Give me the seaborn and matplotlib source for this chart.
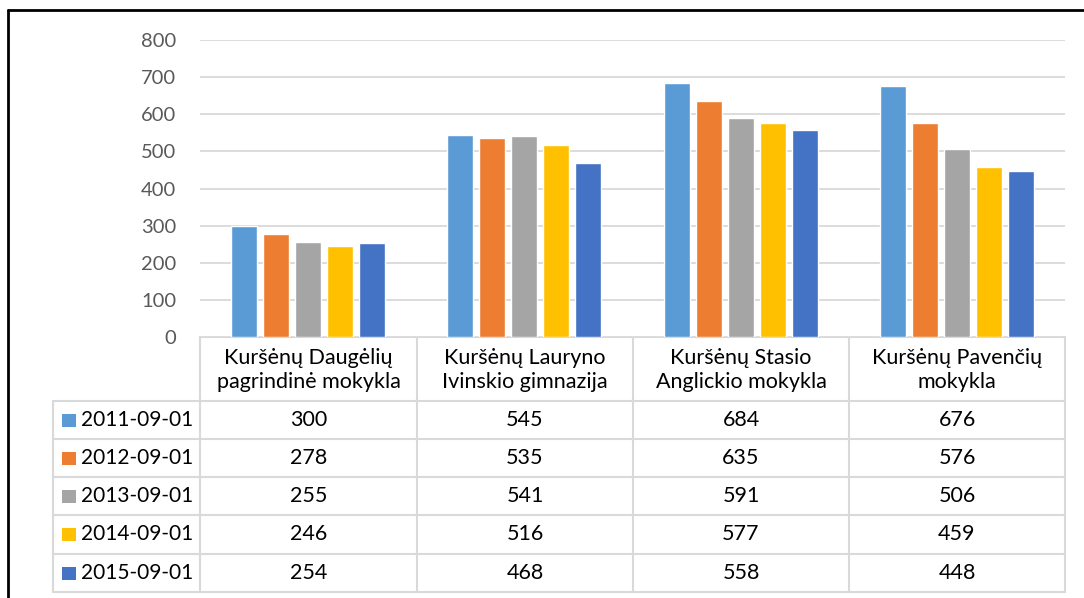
import numpy as np
import pandas as pd
import matplotlib
matplotlib.use('Agg')
import matplotlib.pyplot as plt
import seaborn as sns

schools = ['Kuršėnų Daugėlių\npagrindinė mokykla',
           'Kuršėnų Lauryno\nIvinskio gimnazija',
           'Kuršėnų Stasio\nAnglickio mokykla',
           'Kuršėnų Pavenčių\nmokykla']
dates = ['2011-09-01', '2012-09-01', '2013-09-01', '2014-09-01', '2015-09-01']
v2011 = [300, 545, 684, 676]
v2012 = [278, 535, 635, 576]
v2013 = [255, 541, 591, 506]
v2014 = [246, 516, 577, 459]
v2015 = [254, 468, 558, 448]
colors = ['#5B9BD5', '#ED7D31', '#A5A5A5', '#FFC000', '#4472C4']

series = [v2011, v2012, v2013, v2014, v2015]
rows = []
for d, vals in zip(dates, series):
    for s, v in zip(schools, vals):
        rows.append({'school': s, 'date': d, 'value': v})
df = pd.DataFrame(rows)

sns.set_theme(style='white')
plt.rcParams['font.family'] = ['Lato', 'DejaVu Sans']

W, H = 1084, 598
fig = plt.figure(figsize=(W / 100, H / 100), dpi=100)

# pixel geometry of the plot area
x0, x1 = 200, 1065
y_top, y_zero = 40, 337
ax = fig.add_axes([x0 / W, 1 - y_zero / H, (x1 - x0) / W, (y_zero - y_top) / H])
sns.barplot(data=df, x='school', y='value', hue='date', order=schools, hue_order=dates,
            palette=colors, width=0.74, gap=0.19, ax=ax, legend=False, saturation=1)
ax.set_xlim(-0.5, 3.5)
ax.set_ylim(0, 800)
ax.set_yticks(range(0, 801, 100))
ax.yaxis.grid(True, color='#D9D9D9', lw=1.3)
ax.set_axisbelow(True)
ax.set_xticks([])
ax.set_xlabel('')
ax.set_ylabel('')
ax.tick_params(axis='y', length=0, pad=17, labelsize=14.5, labelcolor='#595959')
for sp in ax.spines.values():
    sp.set_visible(False)

# overlay in pixel coords for the data table and border
ov = fig.add_axes([0, 0, 1, 1], zorder=-1)
ov.set_xlim(0, W)
ov.set_ylim(H, 0)
ov.axis('off')

lc = '#D9D9D9'
col_edges = [200, 417, 633, 849, 1065]
row_edges = [337, 401, 439, 477, 515, 554, 592]
left = 53

ov.plot([col_edges[0], col_edges[-1]], [row_edges[0]] * 2, color=lc, lw=1.5)
for y in row_edges[1:]:
    ov.plot([left, col_edges[-1]], [y, y], color=lc, lw=1.5)
for x in col_edges:
    ov.plot([x, x], [row_edges[0], row_edges[-1]], color=lc, lw=1.5)
ov.plot([left, left], [row_edges[1], row_edges[-1]], color=lc, lw=1.5)

fs = 15.5
for j, s in enumerate(schools):
    cx = (col_edges[j] + col_edges[j + 1]) / 2
    ov.text(cx, (row_edges[0] + row_edges[1]) / 2 + 1, s, ha='center', va='center',
            fontsize=fs, color='#000000', linespacing=1.3)

for i, (d, vals) in enumerate(zip(dates, series)):
    cy = (row_edges[i + 1] + row_edges[i + 2]) / 2
    ov.add_patch(plt.Rectangle((62, cy - 6.5), 14, 13, color=colors[i], lw=0))
    ov.text(81, cy, d, ha='left', va='center', fontsize=15, color='#000000')
    for j, v in enumerate(vals):
        cx = (col_edges[j] + col_edges[j + 1]) / 2
        ov.text(cx, cy, str(v), ha='center', va='center', fontsize=fs, color='#000000')

# outer border (top and left)
ov.plot([8, W], [10, 10], color='black', lw=2)
ov.plot([8, 8], [10, H], color='black', lw=2)

fig.savefig('out.png', dpi=100)
